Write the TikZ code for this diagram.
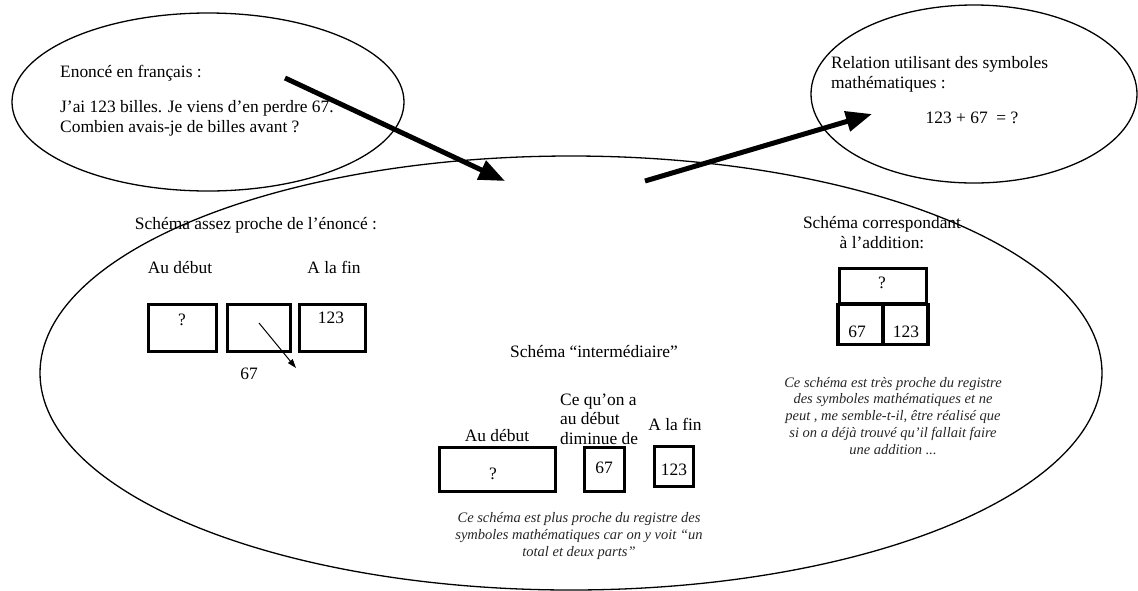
\documentclass[tikz,border=0pt]{standalone}
\usepackage{fontspec}
\setmainfont{Liberation Serif}
\usetikzlibrary{positioning,arrows.meta,shapes.geometric}
\newcommand{\txtsize}{\fontsize{17.4}{19.3}\selectfont}
\newcommand{\notesize}{\fontsize{14.5}{16.7}\selectfont\itshape}
\tikzset{
  bulle/.style={draw, ellipse, line width=1.3pt, inner sep=0pt},
  txtnode/.style={inner sep=0pt, font=\txtsize},
  notenode/.style={inner sep=0pt, font=\notesize, align=center, text=black!85},
  boite/.style={draw, line width=3.5pt, inner sep=0pt},
  bigarrow/.style={line width=5pt, -{Triangle[length=26pt,width=20pt]}},
  thinarrow/.style={line width=1pt, -{Triangle[length=9pt,width=6pt]}},
}

\begin{document}
\begin{tikzpicture}[x=1pt, y=-1pt]
\useasboundingbox (0,0) rectangle (1138,590);

%% Bulles
\node[bulle, minimum width=392pt, minimum height=178pt] (enonce) at (208,102) {};
\node[bulle, minimum width=326pt, minimum height=178pt] (relation) at (974,94) {};
\node[bulle, minimum width=1062pt, minimum height=434pt] (schemas) at (571,373) {};

%% Enonce (multi-line nodes: base = last line)
\node[txtnode, anchor=base west, align=left] (txtenonce) at (60,132)
  {Enoncé en français :\\[16pt]J’ai 123 billes. Je viens d’en perdre 67.\\Combien avais-je de billes avant ?};

%% Relation
\node[txtnode, anchor=base west, align=left] (txtrel) at (831,88)
  {Relation utilisant des symboles\\mathématiques :};
\node[txtnode, anchor=base] (calcul) at (972,123) {123 + 67 \ = ?};

%% Fleches
\coordinate (f1a) at (285,78);
\coordinate (f1b) at (505,181);
\coordinate (f2a) at (645,181);
\coordinate (f2b) at (872,114);
\draw[bigarrow] (f1a) -- (f1b);
\draw[bigarrow] (f2a) -- (f2b);

%% Schema proche de l'enonce
\node[txtnode, anchor=base] (titre1) at (256,229) {Schéma assez proche de l’énoncé :};
\node[txtnode, anchor=base] (debut1) at (180,273) {Au début};
\node[txtnode, anchor=base] (fin1) at (334,273) {A la fin};
\node[boite, minimum width=68pt, minimum height=47pt] (b1) at (182.5,328) {};
\node[boite, minimum width=63pt, minimum height=47pt] (b2) at (259,328) {};
\node[boite, minimum width=66pt, minimum height=47pt] (b3) at (332.5,328) {};
\node[txtnode, anchor=base] (q1) at (182,325) {?};
\node[txtnode, anchor=base] (v123a) at (331,323) {123};
\node[txtnode, anchor=base] (v67a) at (249,379) {67};
\coordinate (pa) at (259,323);
\coordinate (pb) at (296,368);
\draw[thinarrow] (pa) -- (pb);

%% Schema intermediaire
\node[txtnode, anchor=base] (titre2) at (594,357) {Schéma “intermédiaire”};
\node[txtnode, anchor=base west, align=left] (dim) at (560,444) {Ce qu’on a\\au début\\diminue de};
\node[txtnode, anchor=base] (debut2) at (497,441) {Au début};
\node[txtnode, anchor=base] (fin2) at (675,430) {A la fin};
\node[boite, minimum width=116pt, minimum height=44pt] (m1) at (497.5,469.5) {};
\node[boite, minimum width=40pt, minimum height=44pt] (m2) at (604.5,469.5) {};
\node[boite, minimum width=39pt, minimum height=40pt] (m3) at (674,466.5) {};
\node[txtnode, anchor=base] (q2) at (493,479) {?};
\node[txtnode, anchor=base] (v67b) at (604,473) {67};
\node[txtnode, anchor=base] (v123b) at (674,475) {123};
\node[notenode, anchor=base] (note2) at (579,556)
  {Ce schéma est plus proche du registre des\\symboles mathématiques car on y voit “un\\total et deux parts”};

%% Schema de l'addition
\node[txtnode, anchor=base, align=center] (titre3) at (882,248) {Schéma correspondant\\à l’addition:};
\node[boite, minimum width=87pt, minimum height=35pt] (tq) at (883,286) {};
\node[boite, minimum width=45pt, minimum height=40pt] (t67) at (860.5,324.5) {};
\node[boite, minimum width=45pt, minimum height=40pt] (t123) at (905.5,324.5) {};
\node[txtnode, anchor=base] (q3) at (882,288) {?};
\node[txtnode, anchor=base] (v67c) at (857,337) {67};
\node[txtnode, anchor=base] (v123c) at (906,337) {123};
\node[notenode, anchor=base] (note3) at (893,454)
  {Ce schéma est très proche du registre\\des symboles mathématiques et ne\\peut , me semble-t-il, être réalisé que\\si on a déjà trouvé qu’il fallait faire\\une addition ...};
\end{tikzpicture}
\end{document}
